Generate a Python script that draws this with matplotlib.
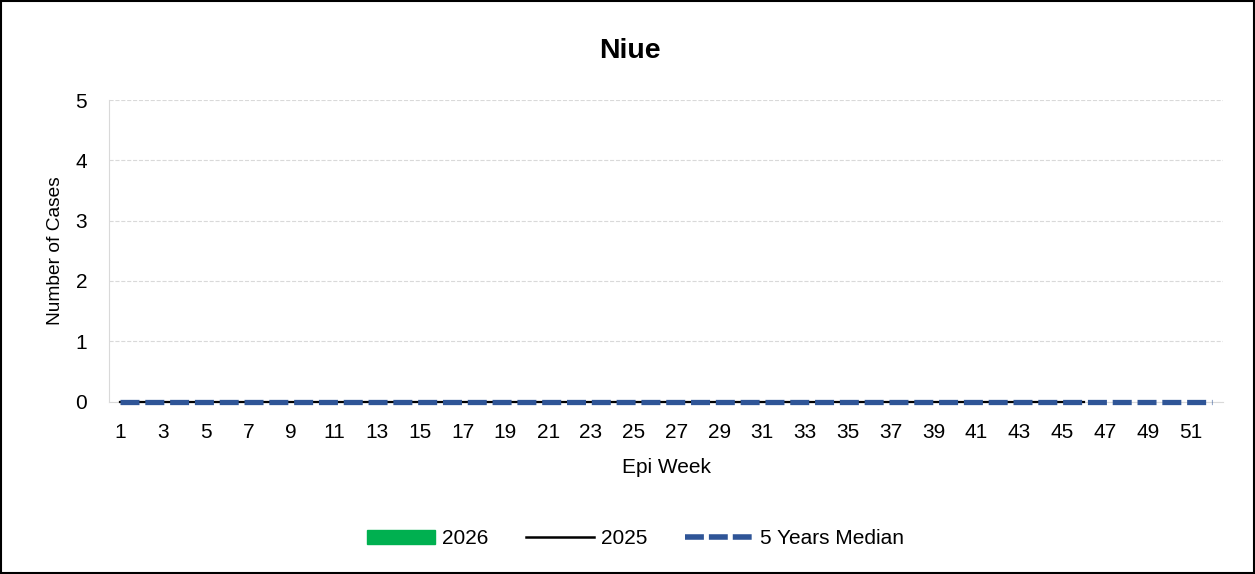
import numpy as np
import matplotlib
matplotlib.use('Agg')
from matplotlib import pyplot as plt
from matplotlib.patches import Rectangle

plt.rcParams['font.family'] = ['Liberation Sans', 'DejaVu Sans']

weeks = list(range(1, 53))
cases_2026 = []  # no reported weeks yet
weeks_2025 = list(range(1, 47))
cases_2025 = [0] * 46
median_5y = [0] * 52

GREEN = '#00b050'
BLUE = '#2f5597'
DASH = (0, (3.6, 1.1))

fig = plt.figure(figsize=(12.55, 5.74), dpi=100)
# plot area in pixels: x 109..1223, y 100..401
ax = fig.add_axes([109.3 / 1255, 1 - 401.5 / 574, 1113.4 / 1255, 301.5 / 574])

ax.bar(weeks[:len(cases_2026)], cases_2026, color=GREEN, width=0.6, label='2026')
ax.plot(weeks_2025, cases_2025, color='black', lw=1.6, label='2025', zorder=3, clip_on=False)
ax.plot(weeks, median_5y, color=BLUE, lw=3.8, ls=DASH, label='5 Years Median',
        zorder=4, clip_on=False)

ax.set_xlim(0.5, 52.5)
ax.set_ylim(0, 5)
ax.set_yticks(range(0, 6))
ax.set_xticks(weeks[::2])
ax.tick_params(length=0, labelsize=15)
ax.tick_params(axis='x', pad=15.5)
ax.tick_params(axis='y', pad=16)
ax.grid(axis='y', color='#d9d9d9', ls='--', lw=0.8)
ax.set_axisbelow(True)
for s in ['top', 'right']:
    ax.spines[s].set_visible(False)
ax.spines['left'].set_color('#d9d9d9')
ax.spines['bottom'].set_color('#d9d9d9')

fig.text(0.502, 1 - 58 / 574, 'Niue', ha='center', va='baseline', fontsize=20.5, fontweight='bold')
ax.set_ylabel('Number of Cases', fontsize=13.8, labelpad=8)
ax.set_xlabel('Epi Week', fontsize=15, labelpad=11.5)

h = [Rectangle((0, 0), 1, 1, color=GREEN),
     plt.Line2D([], [], color='black', lw=1.8),
     plt.Line2D([], [], color=BLUE, lw=4, ls=(0, (3.4, 0.9)))]
fig.legend(h, ['2026', '2025', '5 Years Median'], loc='center', bbox_to_anchor=(0.5064, 0.061),
           ncol=3, frameon=False, fontsize=15, handlelength=3.27, handleheight=0.68,
           columnspacing=1.78, handletextpad=0.34, borderpad=0)

fig.add_artist(Rectangle((0.001, 0.002), 0.998, 0.996, transform=fig.transFigure,
                         fill=False, edgecolor='black', lw=1.5))

fig.savefig('out.png', dpi=100)
